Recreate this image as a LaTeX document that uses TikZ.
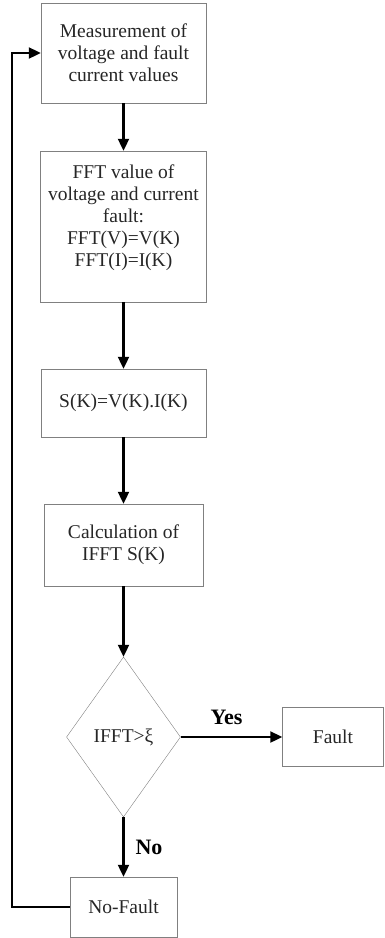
\documentclass[tikz,border=0pt]{standalone}
\usepackage{fontspec}
\setmainfont{Liberation Serif}
\usetikzlibrary{shapes.geometric,arrows.meta,positioning}

\begin{document}
\begin{tikzpicture}[on grid,auto,
        box/.style={rectangle,draw=black!50,thin,align=center,inner sep=2pt,
            text=black!85,font=\fontsize{19.5}{22}\selectfont},
        decision/.style={diamond,draw=black!50,thin,inner sep=0pt,
            minimum width=114pt,minimum height=160pt,
            text=black!85,font=\fontsize{19.5}{22}\selectfont},
        flow/.style={-{Triangle[length=12pt,width=11pt]},line width=2.1pt},
        lbl/.style={font=\bfseries\fontsize{22}{24}\selectfont,inner sep=11pt}]
    \useasboundingbox (0,0) rectangle (384pt,-938pt);
        \node[box, minimum width=165pt, minimum height=100pt] (meas) at (123.5pt,-53pt)
            {Measurement of\\voltage and fault\\current values};
        \node[box, minimum width=166pt, minimum height=151pt] (fftv) [below=173.5pt of meas]
            {FFT value of\\voltage and current\\fault:\\FFT(V)=V(K)\\FFT(I)=I(K)\\\mbox{}};
        \node[box, minimum width=165pt, minimum height=68pt] (sk) [below=176.5pt of fftv]
            {S(K)=V(K).I(K)};
        \node[box, minimum width=159pt, minimum height=82pt] (ifft) [below=142pt of sk]
            {Calculation of\\IFFT S(K)};
        \node[decision] (test) [below=192pt of ifft] {IFFT>ξ};
        \node[box, minimum width=101pt, minimum height=59pt] (fault) [right=209.5pt of test]
            {Fault};
        \node[box, minimum width=107pt, minimum height=60pt] (nofault) [below=170pt of test]
            {No-Fault};
        \path[flow]
            (meas) edge (fftv)
            (fftv) edge (sk)
            (sk) edge (ifft)
            (ifft) edge (test)
            (test) edge node[lbl, pos=0.45] {Yes} (fault)
            (test) edge node[lbl] {No} (nofault);
        \draw[flow] (nofault.west) -- ++(-58pt,0) |- (meas.west);
    \end{tikzpicture}
\end{document}
